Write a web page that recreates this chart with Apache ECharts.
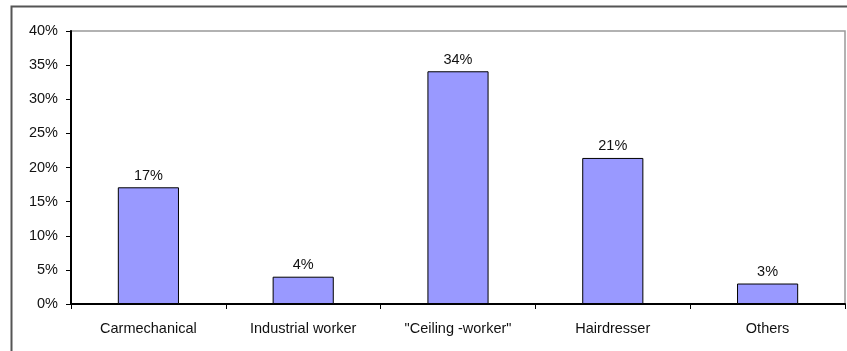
<!DOCTYPE html>
<html><head><meta charset="utf-8">
<script src="https://cdn.jsdelivr.net/npm/echarts@6/dist/echarts.min.js"></script>
<style>html,body{margin:0;padding:0;background:#fff}#c{width:847px;height:351px}</style>
</head><body><div id="c"></div>
<script>
const categories = ['Carmechanical', 'Industrial worker', '"Ceiling -worker"', 'Hairdresser', 'Others'];
const values = [17.1, 4.0, 34.1, 21.4, 3.0];
const labels = ['17%', '4%', '34%', '21%', '3%'];
const yTicks = [0, 5, 10, 15, 20, 25, 30, 35, 40];

const chart = echarts.init(document.getElementById('c'), null, {renderer: 'canvas'});
const font = 'Liberation Sans, Arial, sans-serif';
chart.setOption({
  animation: false,
  graphic: [{
    type: 'rect', left: 9, top: 4, shape: {width: 900, height: 400},
    style: {fill: 'none', stroke: '#555', lineWidth: 2}, silent: true, z: -1
  }],
  grid: {left: 71, right: 2, top: 31, bottom: 47, show: true, borderColor: '#999', borderWidth: 1.5, backgroundColor: '#fff'},
  xAxis: {
    type: 'category', data: categories,
    axisLine: {lineStyle: {color: '#000', width: 2}},
    axisTick: {show: true, alignWithLabel: false, length: 5, lineStyle: {color: '#000'}},
    axisLabel: {color: '#111', fontFamily: font, fontSize: 14.5, margin: 17}
  },
  yAxis: {
    type: 'value', min: yTicks[0], max: yTicks[yTicks.length - 1], interval: 5,
    splitLine: {show: false},
    axisLine: {show: true, lineStyle: {color: '#000', width: 2}},
    axisTick: {show: true, length: 5, lineStyle: {color: '#000'}},
    axisLabel: {color: '#111', fontFamily: font, fontSize: 14.5, margin: 13, formatter: v => v + '%'}
  },
  series: [{
    type: 'bar', data: values, barWidth: '39.5%',
    itemStyle: {color: '#9999FF', borderColor: '#000', borderWidth: 1},
    label: {show: true, position: 'top', distance: 4, color: '#111', fontFamily: font, fontSize: 14.5,
      formatter: p => labels[p.dataIndex]}
  }]
});
</script></body></html>
